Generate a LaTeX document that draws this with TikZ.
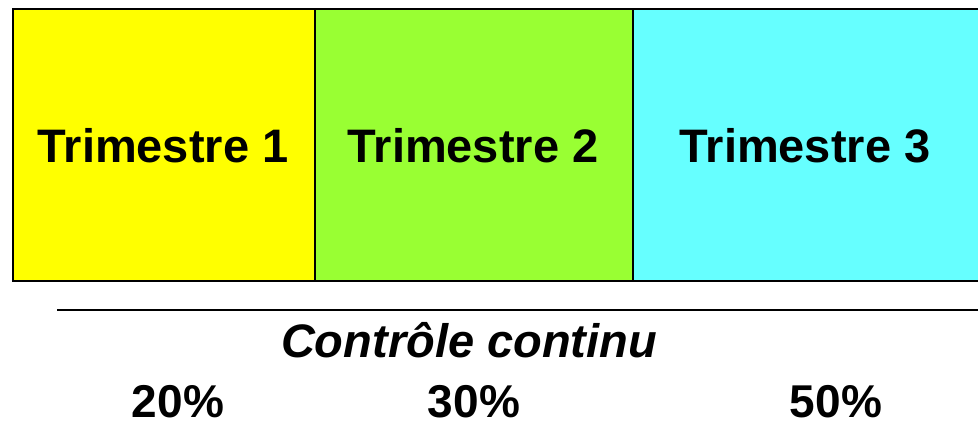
\documentclass[tikz,border=0pt]{standalone}
\usepackage{fontspec}
\setmainfont{Liberation Sans}
\definecolor{tyellow}{HTML}{FFFF00}
\definecolor{tgreen}{HTML}{99FF33}
\definecolor{tcyan}{HTML}{66FFFF}
\tikzset{
  termbox/.style={draw=black, line width=1.5pt, inner sep=0pt, anchor=north west},
  termtext/.style={font=\fontsize{47}{50}\selectfont\bfseries, inner sep=0pt},
  pcttext/.style={font=\fontsize{46}{50}\selectfont\bfseries, inner sep=0pt, anchor=base}
}
\begin{document}
\begin{tikzpicture}[x=1pt,y=-1pt]
\useasboundingbox (0,0) rectangle (978,421);
\node[termbox, fill=tyellow, minimum width=302pt, minimum height=272pt] (b1) at (12,8) {};
\node[termbox, fill=tgreen, minimum width=318pt, minimum height=272pt] (b2) at (314,8) {};
\node[termbox, fill=tcyan, minimum width=348pt, minimum height=272pt] (b3) at (632,8) {};
\node[termtext] (t1) at (163,146) {Trimestre 1};
\node[termtext] (t2) at (473,146) {Trimestre 2};
\node[termtext] (t3) at (805,146) {Trimestre 3};
\coordinate (l1) at (57,310);
\coordinate (l2) at (978,310);
\draw[line width=1.5pt] (l1) -- (l2);
\node[termtext, font=\fontsize{47}{50}\selectfont\bfseries\itshape] (cc) at (469,340) {Contrôle continu};
\node[pcttext] (p1) at (178,417) {20\%};
\node[pcttext] (p2) at (474,417) {30\%};
\node[pcttext] (p3) at (836,417) {50\%};
\end{tikzpicture}
\end{document}
